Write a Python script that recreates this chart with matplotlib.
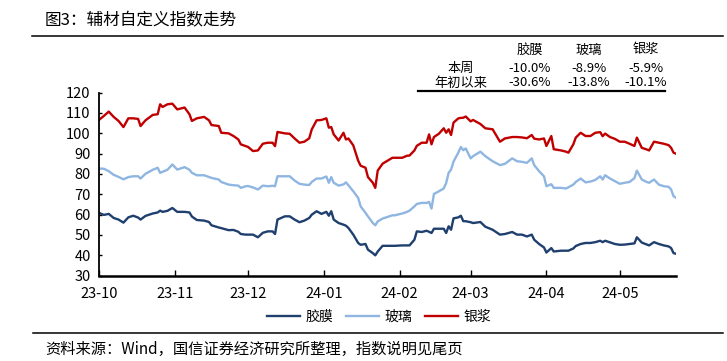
import matplotlib
matplotlib.use("Agg")
import matplotlib.pyplot as plt
import matplotlib.dates as mdates
from matplotlib.lines import Line2D
import pandas as pd

plt.rcParams["font.family"] = ["Noto Sans CJK SC", "DejaVu Sans"]

dates = [
    "2023-10-01", "2023-10-03", "2023-10-05", "2023-10-07", "2023-10-09", "2023-10-11", "2023-10-13", "2023-10-15",
    "2023-10-17", "2023-10-18", "2023-10-20", "2023-10-23", "2023-10-25", "2023-10-26", "2023-10-27", "2023-10-29",
    "2023-10-31", "2023-11-02", "2023-11-05", "2023-11-07", "2023-11-08", "2023-11-10", "2023-11-13", "2023-11-15",
    "2023-11-16", "2023-11-19", "2023-11-20", "2023-11-23", "2023-11-25", "2023-11-27", "2023-11-28", "2023-11-30",
    "2023-12-01", "2023-12-03", "2023-12-05", "2023-12-07", "2023-12-09", "2023-12-11", "2023-12-12", "2023-12-13",
    "2023-12-16", "2023-12-18", "2023-12-20", "2023-12-22", "2023-12-24", "2023-12-26", "2023-12-27", "2023-12-29",
    "2023-12-31", "2024-01-02", "2024-01-03", "2024-01-04", "2024-01-05", "2024-01-07", "2024-01-09", "2024-01-10",
    "2024-01-11", "2024-01-13", "2024-01-15", "2024-01-16", "2024-01-18", "2024-01-19", "2024-01-21", "2024-01-22",
    "2024-01-23", "2024-01-25", "2024-01-29",
    "2024-01-30", "2024-02-02", "2024-02-04", "2024-02-05", "2024-02-07", "2024-02-08", "2024-02-10", "2024-02-12",
    "2024-02-13", "2024-02-14", "2024-02-15", "2024-02-17", "2024-02-19", "2024-02-20", "2024-02-21", "2024-02-22",
    "2024-02-23", "2024-02-25", "2024-02-26", "2024-02-27", "2024-02-28", "2024-03-01", "2024-03-02", "2024-03-05",
    "2024-03-07", "2024-03-10", "2024-03-13", "2024-03-15", "2024-03-18", "2024-03-20", "2024-03-22", "2024-03-24",
    "2024-03-26", "2024-03-27",
    "2024-03-29", "2024-03-31", "2024-04-01", "2024-04-03", "2024-04-04", "2024-04-07", "2024-04-09", "2024-04-10",
    "2024-04-12", "2024-04-13", "2024-04-15", "2024-04-17", "2024-04-19", "2024-04-21", "2024-04-23", "2024-04-24",
    "2024-04-25", "2024-04-27", "2024-04-29", "2024-05-01", "2024-05-03", "2024-05-05", "2024-05-07", "2024-05-08",
    "2024-05-10", "2024-05-12", "2024-05-13", "2024-05-15", "2024-05-17", "2024-05-19", "2024-05-21", "2024-05-22",
    "2024-05-23", "2024-05-24",
]

film = [  # 胶膜
    60.8, 59.8, 60.3, 58.3, 57.5, 56.0, 58.6, 59.4, 58.5, 57.5, 59.3, 60.5, 61.0, 61.9, 61.3, 61.8,
    63.2, 61.3, 61.3, 61.0, 59.0, 57.3, 57.0, 56.3, 54.7, 53.6, 53.3, 52.3, 52.4, 51.5, 50.4, 50.1,
    50.1, 50.1, 48.8, 51.0, 51.7, 51.7, 50.4, 57.5, 59.1, 59.1, 57.5, 56.2, 57.0, 58.3, 59.9, 61.6,
    60.3, 61.3, 59.4, 61.6, 57.5, 55.8, 55.0, 54.5, 53.4, 50.1, 46.0, 45.1, 45.5, 42.7, 41.0, 39.9,
    41.8, 44.6, 44.6,
    44.6, 44.8, 44.8, 44.8, 47.6, 51.7, 51.4, 52.0, 51.5, 50.9, 53.0, 53.0, 53.0, 50.9, 54.2, 52.5,
    58.1, 58.6, 59.4, 56.7, 56.7, 56.2, 55.8, 56.3, 54.0, 52.5, 50.1, 50.4, 51.4, 50.1, 50.1, 49.2,
    50.1, 47.6,
    45.5, 43.8, 41.3, 43.5, 41.8, 42.2, 42.2, 42.2, 43.3, 44.5, 45.5, 46.0, 46.0, 46.4, 47.1, 46.4,
    47.1, 46.3, 45.5, 45.1, 45.2, 45.5, 45.8, 48.8, 46.2, 45.3, 44.8, 46.4, 45.5, 44.8, 44.3, 43.5,
    41.0, 40.7,
]

glass = [  # 玻璃
    82.6, 82.5, 81.3, 79.5, 78.5, 77.3, 78.4, 78.8, 78.8, 77.7, 80.0, 82.0, 83.0, 80.5, 81.0, 82.0,
    84.6, 82.1, 83.3, 82.0, 80.5, 79.3, 79.3, 78.4, 78.0, 77.2, 76.0, 74.7, 74.4, 74.2, 73.1, 73.9,
    74.0, 73.3, 72.3, 74.2, 73.9, 74.1, 73.9, 78.8, 78.8, 78.8, 76.7, 75.1, 74.7, 74.5, 76.0, 77.7,
    77.7, 78.7, 75.6, 78.4, 75.6, 74.2, 74.8, 75.8, 74.4, 71.4, 68.2, 64.0, 60.8, 59.1, 55.8, 54.7,
    56.6, 58.0, 59.6,
    59.6, 60.5, 61.3, 61.9, 64.0, 65.2, 65.7, 65.7, 66.2, 62.9, 70.1, 71.4, 72.8, 75.5, 80.5, 82.1,
    86.0, 90.5, 93.2, 91.6, 92.5, 87.6, 88.7, 90.9, 88.7, 86.2, 84.3, 84.9, 87.6, 86.2, 85.9, 85.4,
    87.6, 84.3,
    81.3, 78.8, 73.9, 74.9, 73.1, 73.1, 72.8, 73.4, 74.7, 76.0, 77.7, 75.8, 76.2, 77.0, 78.8, 77.2,
    79.3, 77.7, 76.4, 75.1, 75.6, 76.0, 77.9, 81.6, 77.2, 76.0, 75.6, 77.2, 74.7, 73.9, 73.6, 72.3,
    69.0, 68.2,
]

paste = [  # 银浆
    106.5, 108.5, 110.6, 108.0, 106.0, 103.0, 107.3, 107.3, 107.0, 103.5, 106.3, 109.0, 109.3, 114.2, 112.9, 114.2,
    114.5, 111.7, 112.6, 109.3, 106.0, 107.3, 108.0, 106.3, 104.0, 103.5, 100.2, 99.9, 98.6, 96.9, 94.5, 93.6,
    93.2, 91.2, 91.5, 94.8, 95.3, 95.3, 93.6, 100.6, 99.9, 99.7, 97.4, 95.3, 95.8, 97.5, 101.8, 106.3,
    106.5, 107.3, 102.7, 103.0, 99.4, 96.4, 100.2, 96.9, 97.4, 94.0, 86.5, 84.0, 83.0, 78.4, 75.6, 73.1,
    81.6, 85.0, 87.9,
    87.9, 87.9, 88.9, 89.0, 91.5, 93.8, 95.3, 95.3, 99.4, 94.5, 98.1, 99.7, 102.4, 100.2, 101.9, 99.1,
    105.2, 107.3, 107.5, 107.6, 108.2, 105.8, 106.5, 104.5, 102.4, 101.9, 95.8, 97.4, 98.1, 98.1, 97.9, 97.5,
    99.1, 97.3,
    96.9, 97.4, 93.7, 98.6, 92.1, 91.5, 90.9, 90.4, 94.5, 97.8, 100.2, 98.6, 98.6, 100.2, 100.5, 98.5,
    99.8, 98.1, 97.2, 95.8, 95.8, 94.8, 93.7, 97.8, 92.8, 92.0, 91.5, 95.8, 95.3, 94.8, 94.1, 92.8,
    90.4, 89.9,
]

series_names = ["胶膜", "玻璃", "银浆"]
series_colors = ["#1F3F6E", "#8FB6E1", "#C00000"]
table_rows = ["本周", "年初以来"]
table_values = [["-10.0%", "-8.9%", "-5.9%"], ["-30.6%", "-13.8%", "-10.1%"]]

W, H = 727, 361
fig = plt.figure(figsize=(W / 100, H / 100), dpi=100)


def fx(x):
    return x / W


def fy(y):
    return 1 - y / H


ax = fig.add_axes([fx(99), fy(275.5), fx(676) - fx(99), fy(92.5) - fy(275.5)])
x = pd.to_datetime(dates)
for vals, name, color in zip([film, glass, paste], series_names, series_colors):
    ax.plot(x, vals, color=color, lw=1.7, label=name)

ax.set_xlim(pd.Timestamp("2023-10-01"), pd.Timestamp("2024-05-24"))
ax.set_ylim(30, 120)
ax.set_yticks(range(30, 121, 10))
ax.xaxis.set_major_locator(mdates.MonthLocator())
ax.xaxis.set_major_formatter(mdates.DateFormatter("%y-%m"))
for side in ["top", "right"]:
    ax.spines[side].set_visible(False)
ax.spines["bottom"].set_linewidth(1.8)
ax.spines["left"].set_linewidth(1.3)
ax.tick_params(axis="x", direction="in", length=4, width=1, pad=8, labelsize=10.5)
ax.tick_params(axis="y", direction="in", length=2.5, width=1, pad=6, labelsize=10.5)

# title and rules
fig.text(fx(45), fy(21), "图3：辅材自定义指数走势", fontsize=12, va="center", ha="left")
fig.add_artist(Line2D([fx(32), fx(723)], [fy(35.7), fy(35.7)], color="black", lw=1.1))
fig.add_artist(Line2D([fx(33), fx(723)], [fy(332.7), fy(332.7)], color="black", lw=1.1))
fig.text(fx(45), fy(349), "资料来源：Wind，国信证券经济研究所整理，指数说明见尾页",
         fontsize=11, va="center", ha="left")

# table
col_x = [530, 589, 646]
row_y = [68, 83]
for cx, name in zip(col_x, series_names):
    fig.text(fx(cx), fy(50), name, fontsize=9.5, ha="center", va="center")
for ry, label, vals in zip(row_y, table_rows, table_values):
    fig.text(fx(461), fy(ry), label, fontsize=9.5, ha="center", va="center")
    for cx, v in zip(col_x, vals):
        fig.text(fx(cx), fy(ry), v, fontsize=9.5, ha="center", va="center")
fig.add_artist(Line2D([fx(418), fx(665)], [fy(91), fy(91)], color="black", lw=1.6))

fig.legend(*ax.get_legend_handles_labels(), loc="center", bbox_to_anchor=(fx(379), fy(317)),
           ncol=3, frameon=False, fontsize=10, handlelength=2.4, handletextpad=0.4,
           columnspacing=0.9)

fig.savefig("out.png", dpi=100)
